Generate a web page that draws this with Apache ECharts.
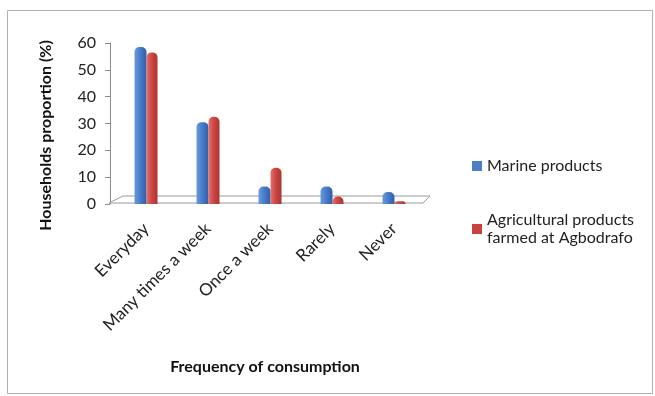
<!DOCTYPE html>
<html>
<head>
<meta charset="utf-8">
<script src="https://cdn.jsdelivr.net/npm/echarts@6/dist/echarts.min.js"></script>
<style>
  html, body { margin: 0; padding: 0; background: #fff; }
  #chart { width: 655px; height: 396px; }
</style>
</head>
<body>
<div id="chart"></div>
<script>
// Frequency of consumption categories
const categories = ['Everyday', 'Many times a week', 'Once a week', 'Rarely', 'Never'];
// Share of households (%) per category
const marineValues = [58.5, 30.5, 6.5, 6.5, 4.5];
const agriValues = [56.5, 32.5, 13.5, 2.8, 1.0];
const yTicks = { min: 0, max: 60, interval: 10 };

const FONT = 'Lato';
const BLUE = '#4a7ec9';
const RED = '#c9413f';

function barGradient(light, mid, dark) {
  return new echarts.graphic.LinearGradient(0, 0, 1, 0, [
    { offset: 0, color: light },
    { offset: 0.45, color: mid },
    { offset: 1, color: dark }
  ]);
}

const chart = echarts.init(document.getElementById('chart'), null, { renderer: 'canvas' });

chart.setOption({
  animation: false,
  backgroundColor: '#ffffff',
  textStyle: { fontFamily: FONT },
  graphic: [{
    type: 'rect',
    shape: { x: 7.5, y: 10.5, width: 645, height: 383 },
    style: { fill: 'none', stroke: '#b0b0b0', lineWidth: 1 },
    silent: true
  }],
  grid: { left: 115, right: 230, top: 43, bottom: 192, containLabel: false },
  legend: {
    orient: 'vertical',
    left: 467,
    top: 152,
    itemWidth: 10,
    itemHeight: 10,
    itemGap: 36,
    icon: 'rect',
    data: [
      { name: 'Marine products', itemStyle: { color: BLUE } },
      { name: 'Agricultural products\nfarmed at Agbodrafo', itemStyle: { color: RED } }
    ],
    textStyle: { fontFamily: FONT, fontSize: 16, color: '#222', lineHeight: 18 }
  },
  xAxis: {
    type: 'category',
    data: categories,
    name: 'Frequency of consumption',
    nameLocation: 'middle',
    nameGap: 155,
    nameTextStyle: { fontFamily: FONT, fontSize: 16, fontWeight: 'bold', color: '#111', padding: [0, 10, 0, 0] },
    axisLine: { show: false },
    axisTick: { show: false },
    axisLabel: { rotate: 45, margin: 22, fontFamily: FONT, fontSize: 17, color: '#222', interval: 0 }
  },
  yAxis: {
    type: 'value',
    min: yTicks.min,
    max: yTicks.max,
    interval: yTicks.interval,
    offset: 5,
    name: 'Households proportion (%)',
    nameLocation: 'middle',
    nameGap: 56,
    nameRotate: 90,
    nameTextStyle: { fontFamily: FONT, fontSize: 16, fontWeight: 'bold', color: '#111', padding: [0, 24, 0, 0] },
    axisLine: { show: true, lineStyle: { color: '#8c8c8c', width: 1 } },
    axisTick: { show: true, inside: false, length: 5, lineStyle: { color: '#8c8c8c' } },
    axisLabel: { margin: 14, fontFamily: FONT, fontSize: 16, color: '#222' },
    splitLine: { show: false }
  },
  series: [
    {
      // Floor plane under the bars
      type: 'custom',
      name: 'floor',
      silent: true,
      z: 1,
      data: [[0, 0]],
      renderItem: function (params, api) {
        const c = api.coord([0, 0]);
        const bw = api.size([1, 0])[0];
        const fl = c[0] - bw / 2 - 6;
        const fr = c[0] + bw * 4.5 - 2;
        const y = c[1] - 1;
        return {
          type: 'polygon',
          shape: { points: [[fl, y], [fr, y], [fr + 7, y - 7], [fl + 14, y - 7]] },
          style: { fill: '#ffffff', stroke: '#9a9a9a', lineWidth: 1 }
        };
      }
    },
    {
      name: 'Marine products',
      type: 'bar',
      z: 3,
      data: marineValues,
      barWidth: 12,
      barGap: '0%',
      itemStyle: {
        color: barGradient('#6a9be0', '#4a7ec9', '#2f5ea8'),
        borderRadius: [5, 5, 0, 0]
      }
    },
    {
      name: 'Agricultural products\nfarmed at Agbodrafo',
      type: 'bar',
      z: 3,
      data: agriValues,
      barWidth: 11,
      barGap: '0%',
      itemStyle: {
        color: barGradient('#e07270', '#cf4744', '#a83532'),
        borderRadius: [5, 5, 0, 0]
      }
    }
  ]
});
</script>
</body>
</html>
